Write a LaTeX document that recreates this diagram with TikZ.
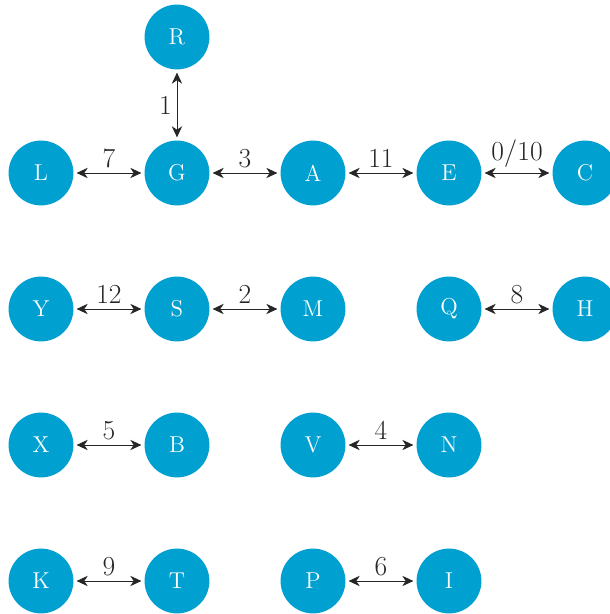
\documentclass[tikz,border=0pt]{standalone}
\usepackage{tikz}
\usetikzlibrary{positioning, calc}
\usetikzlibrary{arrows, arrows.meta}

\definecolor{nodeblue}{RGB}{0,160,208}

\begin{document}
\begin{tikzpicture}[
    vert/.style={circle, fill=nodeblue, text=white, minimum size=1.43cm, inner sep=0pt, outer sep=2pt, font=\Large},
    link/.style={<->, >={Stealth[inset=2.2pt, length=7pt, width=6.5pt]}, semithick, black!85},
    wt/.style={font=\LARGE, inner sep=3pt}]

    % fix the margins
    \useasboundingbox (-0.904,-9.728) rectangle (12.53,3.816);

    % Parameters
    \def\d{3} % distance between nodes

    % first row
    \node[vert] (R) at (\d,\d) {R};
    \node[vert] (L) at (0,0) {L};
    \node[vert] (G) at (\d,0) {G};
    \node[vert] (A) at (2*\d,0) {A};
    \node[vert] (E) at (3*\d,0) {E};
    \node[vert] (C) at (4*\d,0) {C};

    % second row
    \node[vert] (Y) at (0,-\d) {Y};
    \node[vert] (S) at (\d,-\d) {S};
    \node[vert] (M) at (2*\d,-\d) {M};
    \node[vert] (Q) at (3*\d,-\d) {Q};
    \node[vert] (H) at (4*\d,-\d) {H};

    % third row
    \node[vert] (X) at (0,-2*\d) {X};
    \node[vert] (B) at (\d,-2*\d) {B};
    \node[vert] (V) at (2*\d,-2*\d) {V};
    \node[vert] (N) at (3*\d,-2*\d) {N};

    % fourth row
    \node[vert] (K) at (0,-3*\d) {K};
    \node[vert] (T) at (\d,-3*\d) {T};
    \node[vert] (P) at (2*\d,-3*\d) {P};
    \node[vert] (I) at (3*\d,-3*\d) {I};

    % Draw edges
    \draw[link] (R) -- node[left, wt] {1} (G);
    \foreach \a/\b/\w in {L/G/7, G/A/3, A/E/11, E/C/0\slash10, Y/S/12, S/M/2, Q/H/8, X/B/5, V/N/4, K/T/9, P/I/6} {
        \draw[link] (\a) -- node[above, wt] {$\w$} (\b);
    }

\end{tikzpicture}
\end{document}
